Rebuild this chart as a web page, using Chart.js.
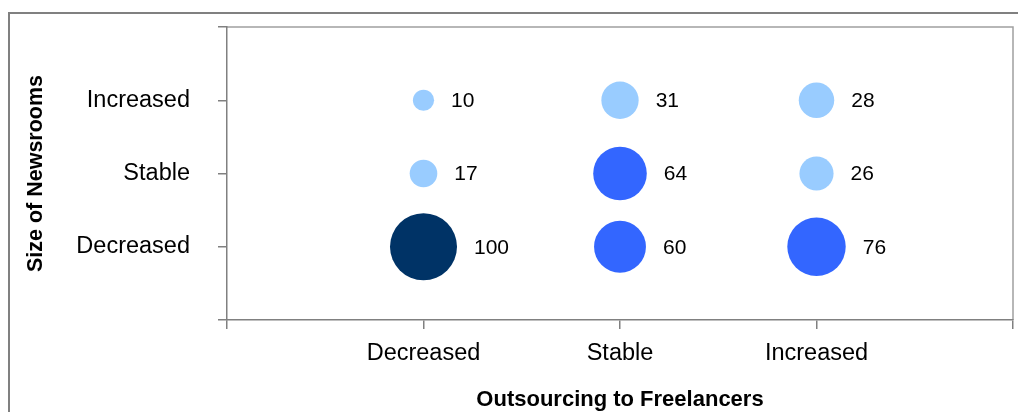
<!DOCTYPE html>
<html>
<head>
<meta charset="utf-8">
<script src="https://cdn.jsdelivr.net/npm/chart.js@4.4.1/dist/chart.umd.min.js"></script>
<style>
  body { margin: 0; background: #fff; }
  canvas { display: block; }
</style>
</head>
<body>
<canvas id="myChart" width="1018" height="412"></canvas>
<script>
// categories on both axes
const outsourcing = ['Decreased', 'Stable', 'Increased'];
const newsrooms = ['Decreased', 'Stable', 'Increased'];

// values per newsroom row, across outsourcing columns
const rowDecreased = [100, 60, 76];
const rowStable = [17, 64, 26];
const rowIncreased = [10, 31, 28];

const rows = [rowDecreased, rowStable, rowIncreased];

const points = [];
rows.forEach(function (row, yi) {
    row.forEach(function (v, xi) {
        points.push({ x: xi + 1, y: yi + 1, r: 3.35 * Math.sqrt(v), v: v });
    });
});

function bubbleColor(ctx) {
    const p = ctx.raw;
    if (!p) return '#99CCFF';
    if (p.v >= 100) return '#003366';
    if (p.v >= 50) return '#3366FF';
    return '#99CCFF';
}

const frame = {
    id: 'frame',
    beforeDraw: function (chart) {
        const c = chart.ctx;
        const a = chart.chartArea;
        c.save();
        c.strokeStyle = '#808080';
        c.lineWidth = 2;
        c.strokeRect(9, 13, 1100, 500);
        c.strokeStyle = '#a0a0a0';
        c.lineWidth = 1.5;
        c.beginPath();
        c.moveTo(a.left, a.top);
        c.lineTo(a.right, a.top);
        c.lineTo(a.right, a.bottom);
        c.stroke();
        c.restore();
    },
    afterDatasetsDraw: function (chart) {
        const c = chart.ctx;
        const meta = chart.getDatasetMeta(0);
        c.save();
        c.fillStyle = '#000';
        c.font = '21px "Liberation Sans", Arial, sans-serif';
        c.textAlign = 'left';
        c.textBaseline = 'middle';
        meta.data.forEach(function (el, i) {
            const p = points[i];
            c.fillText(String(p.v), el.x + p.r + 17, el.y + 1);
        });
        c.restore();
    }
};

const ctx = document.getElementById('myChart').getContext('2d');
new Chart(ctx, {
    type: 'bubble',
    data: {
        datasets: [{
            data: points,
            backgroundColor: bubbleColor,
            borderColor: bubbleColor,
            borderWidth: 0,
            hoverRadius: 0
        }]
    },
    options: {
        responsive: false,
        animation: false,
        events: [],
        layout: { autoPadding: false, padding: { top: 27, right: 5, left: 0, bottom: 0 } },
        plugins: {
            legend: { display: false },
            tooltip: { enabled: false }
        },
        scales: {
            x: {
                type: 'linear',
                min: 0,
                max: 4,
                afterFit: function (scale) {
                    scale.height = 92;
                    scale.paddingLeft = 0;
                    scale.paddingRight = 0;
                },
                ticks: {
                    stepSize: 1,
                    padding: 10,
                    color: '#000',
                    font: { family: '"Liberation Sans", Arial, sans-serif', size: 23.5 },
                    callback: function (v) { return outsourcing[v - 1] || ''; }
                },
                grid: { drawOnChartArea: false, tickLength: 9, color: '#808080', lineWidth: 1.5 },
                border: { color: '#808080', width: 1.5 },
                title: {
                    display: true,
                    text: 'Outsourcing to Freelancers',
                    color: '#000',
                    padding: { top: 0, bottom: 0 },
                    font: { family: '"Liberation Sans", Arial, sans-serif', size: 22, weight: 'bold', lineHeight: 1.1 }
                }
            },
            y: {
                type: 'linear',
                min: 0,
                max: 4,
                afterFit: function (scale) {
                    scale.width = 227;
                    scale.paddingTop = 0;
                    scale.paddingBottom = 0;
                },
                ticks: {
                    stepSize: 1,
                    padding: 28,
                    color: '#000',
                    font: { family: '"Liberation Sans", Arial, sans-serif', size: 23.5 },
                    callback: function (v) { return newsrooms[v - 1] || ''; }
                },
                grid: { drawOnChartArea: false, tickLength: 9, color: '#808080', lineWidth: 1.5 },
                border: { color: '#808080', width: 1.5 },
                title: {
                    display: true,
                    text: 'Size of Newsrooms',
                    color: '#000',
                    padding: { top: 23, bottom: 0 },
                    font: { family: '"Liberation Sans", Arial, sans-serif', size: 21.5, weight: 'bold' }
                }
            }
        }
    },
    plugins: [frame]
});
</script>
</body>
</html>
